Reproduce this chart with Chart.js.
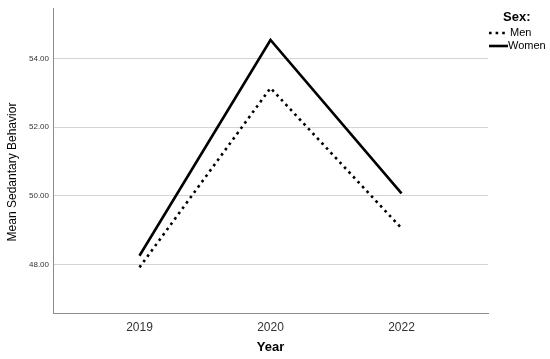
<!DOCTYPE html>
<html>
<head>
<meta charset="utf-8">
<script src="https://cdn.jsdelivr.net/npm/chart.js@4/dist/chart.umd.min.js"></script>
<style>
  html, body { margin: 0; padding: 0; background: #fff; }
  #wrap { width: 550px; height: 359px; position: relative; }
</style>
</head>
<body>
<div id="wrap"><canvas id="grafico"></canvas></div>
<script>
// ── Dados ──
const anos       = ["2019", "2020", "2022"];
const homens     = [47.91, 53.14, 49.05];
const mulheres   = [48.25, 54.54, 50.07];
const ticksY     = [48, 50, 52, 54];
const tituloLegenda = "Sex:";
const tituloY       = "Mean Sedantary Behavior";
const nomesSeries   = ["Men", "Women"];

const FONTE = "Arial, 'Liberation Sans', sans-serif";

// legenda e título do eixo Y desenhados à mão
const extrasSPSS = {
  id: "extrasSPSS",
  afterDraw(chart) {
    const ctx = chart.ctx;
    ctx.save();
    ctx.fillStyle = "#000";
    ctx.textBaseline = "middle";

    // título do eixo Y (um pouco abaixo do centro, como no original)
    ctx.save();
    ctx.translate(13, 172);
    ctx.rotate(-Math.PI / 2);
    ctx.textAlign = "center";
    ctx.font = "12px " + FONTE;
    ctx.fillText(tituloY, 0, 0);
    ctx.restore();

    ctx.textAlign = "left";
    ctx.font = "bold 13px " + FONTE;
    ctx.fillText(tituloLegenda, 503, 17);

    ctx.font = "11px " + FONTE;
    chart.data.datasets.forEach((ds, i) => {
      const y = 33 + i * 13;
      ctx.beginPath();
      ctx.lineWidth = ds.borderWidth;
      ctx.strokeStyle = ds.borderColor;
      ctx.setLineDash(ds.borderDash || []);
      ctx.moveTo(489, y);
      ctx.lineTo(508, y);
      ctx.stroke();
      ctx.setLineDash([]);
      ctx.fillText(ds.label, i === 0 ? 510 : 508, y);
    });
    ctx.restore();
  }
};

const ctx = document.getElementById("grafico").getContext("2d");

new Chart(ctx, {
  type: "line",
  data: {
    datasets: [
      {
        label: nomesSeries[0],
        data: homens.map((v, i) => ({ x: i, y: v })),
        borderColor: "#000",
        borderWidth: 2.6,
        borderDash: [2.6, 4],
        pointRadius: 0,
        tension: 0,
      },
      {
        label: nomesSeries[1],
        data: mulheres.map((v, i) => ({ x: i, y: v })),
        borderColor: "#000",
        borderWidth: 2.6,
        pointRadius: 0,
        tension: 0,
      }
    ]
  },
  options: {
    responsive: true,
    maintainAspectRatio: false,
    animation: false,
    layout: { padding: { left: 0, right: 62, top: 7, bottom: 0 } },
    plugins: {
      legend: { display: false },
      tooltip: { enabled: false }
    },
    scales: {
      x: {
        type: "linear",
        min: -0.66,
        max: 2.66,
        afterBuildTicks: axis => { axis.ticks = anos.map((_, i) => ({ value: i })); },
        afterFit: axis => { axis.height = 46; },
        grid: { display: false, drawTicks: false },
        border: { color: "#8c8c8c", width: 1 },
        ticks: {
          padding: 7,
          color: "#333",
          font: { family: FONTE, size: 12 },
          callback: v => anos[v] ?? ""
        },
        title: {
          display: true,
          text: "Year",
          color: "#000",
          font: { family: FONTE, size: 13, weight: "bold" },
          padding: { top: 0, bottom: 4 }
        }
      },
      y: {
        min: 46.58,
        max: 55.45,
        afterBuildTicks: axis => { axis.ticks = ticksY.map(v => ({ value: v })); },
        afterFit: axis => { axis.width = 53; },
        grid: { color: "#d4d4d4", lineWidth: 1, drawTicks: false },
        border: { color: "#8c8c8c", width: 1 },
        ticks: {
          padding: 4,
          color: "#333",
          font: { family: FONTE, size: 8 },
          callback: v => v.toFixed(2)
        }
      }
    }
  },
  plugins: [extrasSPSS]
});
</script>
</body>
</html>
